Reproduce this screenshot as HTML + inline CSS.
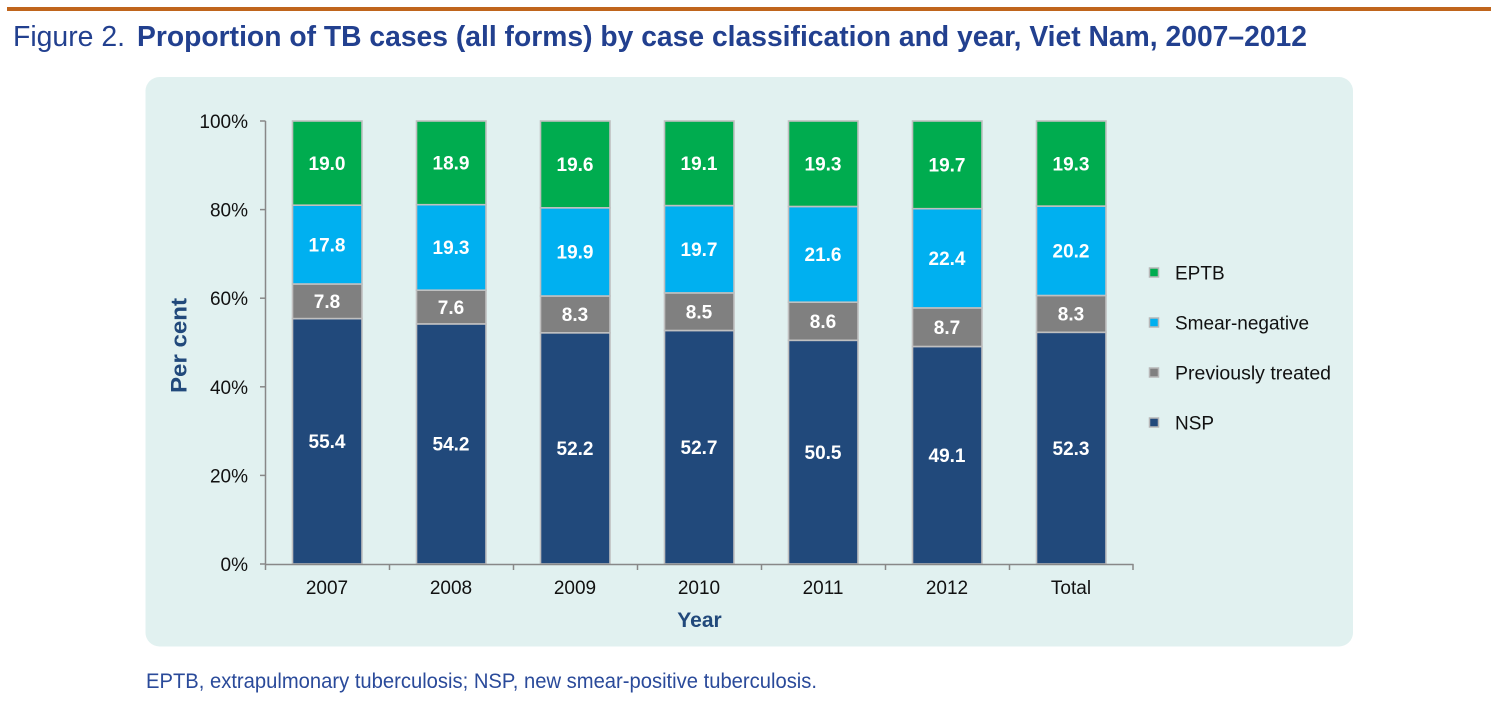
<!DOCTYPE html>
<html>
<head>
<meta charset="utf-8">
<style>
html,body{margin:0;padding:0;background:#ffffff;}
svg{display:block;}
</style>
</head>
<body>
<svg width="1500" height="702" viewBox="0 0 1500 702" xmlns="http://www.w3.org/2000/svg" font-family="'Liberation Sans', Arial, sans-serif">
  <!-- top rule -->
  <rect x="7" y="7" width="1484" height="4" fill="#c0651c"/>
  <!-- title -->
  <text x="13" y="46" font-size="29" fill="#22408f" textLength="112" lengthAdjust="spacingAndGlyphs">Figure 2.</text>
  <text x="137" y="46" font-size="29" font-weight="bold" fill="#22408f" textLength="1170" lengthAdjust="spacingAndGlyphs">Proportion of TB cases (all forms) by case classification and year, Viet Nam, 2007–2012</text>

  <!-- panel -->
  <rect x="145.5" y="77" width="1207.5" height="569.5" rx="14" ry="14" fill="#e1f1f0"/>

  <!-- y axis -->
  <g stroke="#888888" stroke-width="1.5" fill="none">
    <line x1="265.5" y1="121" x2="265.5" y2="564"/>
    <line x1="260" y1="121" x2="265.5" y2="121"/>
    <line x1="260" y1="209.6" x2="265.5" y2="209.6"/>
    <line x1="260" y1="298.2" x2="265.5" y2="298.2"/>
    <line x1="260" y1="386.8" x2="265.5" y2="386.8"/>
    <line x1="260" y1="475.4" x2="265.5" y2="475.4"/>
    <line x1="260" y1="564" x2="265.5" y2="564"/>
  </g>
  <g font-size="19" fill="#111111" text-anchor="end">
    <text x="248" y="128">100%</text>
    <text x="248" y="216.6">80%</text>
    <text x="248" y="305.2">60%</text>
    <text x="248" y="393.8">40%</text>
    <text x="248" y="482.4">20%</text>
    <text x="248" y="571">0%</text>
  </g>

  <!-- bars -->
  <g stroke="#c0c0c0" stroke-width="1.6">
    <!-- 2007 -->
    <rect x="292.5" y="318.6" width="69.5" height="245.4" fill="#21497b"/>
    <rect x="292.5" y="284.0" width="69.5" height="34.6" fill="#808080"/>
    <rect x="292.5" y="205.2" width="69.5" height="78.8" fill="#00b0f0"/>
    <rect x="292.5" y="121" width="69.5" height="84.2" fill="#00ac4f"/>
    <!-- 2008 -->
    <rect x="416.5" y="323.9" width="69.5" height="240.1" fill="#21497b"/>
    <rect x="416.5" y="290.2" width="69.5" height="33.7" fill="#808080"/>
    <rect x="416.5" y="204.7" width="69.5" height="85.5" fill="#00b0f0"/>
    <rect x="416.5" y="121" width="69.5" height="83.7" fill="#00ac4f"/>
    <!-- 2009 -->
    <rect x="540.5" y="332.8" width="69.5" height="231.2" fill="#21497b"/>
    <rect x="540.5" y="296.0" width="69.5" height="36.8" fill="#808080"/>
    <rect x="540.5" y="207.8" width="69.5" height="88.2" fill="#00b0f0"/>
    <rect x="540.5" y="121" width="69.5" height="86.8" fill="#00ac4f"/>
    <!-- 2010 -->
    <rect x="664.5" y="330.5" width="69.5" height="233.5" fill="#21497b"/>
    <rect x="664.5" y="292.9" width="69.5" height="37.6" fill="#808080"/>
    <rect x="664.5" y="205.6" width="69.5" height="87.3" fill="#00b0f0"/>
    <rect x="664.5" y="121" width="69.5" height="84.6" fill="#00ac4f"/>
    <!-- 2011 -->
    <rect x="788.5" y="340.3" width="69.5" height="223.7" fill="#21497b"/>
    <rect x="788.5" y="302.2" width="69.5" height="38.1" fill="#808080"/>
    <rect x="788.5" y="206.5" width="69.5" height="95.7" fill="#00b0f0"/>
    <rect x="788.5" y="121" width="69.5" height="85.5" fill="#00ac4f"/>
    <!-- 2012 -->
    <rect x="912.5" y="346.5" width="69.5" height="217.5" fill="#21497b"/>
    <rect x="912.5" y="307.9" width="69.5" height="38.6" fill="#808080"/>
    <rect x="912.5" y="208.7" width="69.5" height="99.2" fill="#00b0f0"/>
    <rect x="912.5" y="121" width="69.5" height="87.7" fill="#00ac4f"/>
    <!-- Total -->
    <rect x="1036.5" y="332.3" width="69.5" height="231.7" fill="#21497b"/>
    <rect x="1036.5" y="295.5" width="69.5" height="36.8" fill="#808080"/>
    <rect x="1036.5" y="206.1" width="69.5" height="89.4" fill="#00b0f0"/>
    <rect x="1036.5" y="121" width="69.5" height="85.1" fill="#00ac4f"/>
  </g>

  <!-- x axis -->
  <g stroke="#888888" stroke-width="1.5" fill="none">
    <line x1="265" y1="564.5" x2="1133.5" y2="564.5"/>
    <line x1="265.5" y1="564" x2="265.5" y2="570"/>
    <line x1="389.5" y1="564" x2="389.5" y2="570"/>
    <line x1="513.5" y1="564" x2="513.5" y2="570"/>
    <line x1="637.5" y1="564" x2="637.5" y2="570"/>
    <line x1="761.5" y1="564" x2="761.5" y2="570"/>
    <line x1="885.5" y1="564" x2="885.5" y2="570"/>
    <line x1="1009.5" y1="564" x2="1009.5" y2="570"/>
    <line x1="1133" y1="564" x2="1133" y2="570"/>
  </g>
  <g font-size="19" fill="#111111" text-anchor="middle">
    <text x="327" y="594">2007</text>
    <text x="451" y="594">2008</text>
    <text x="575" y="594">2009</text>
    <text x="699" y="594">2010</text>
    <text x="823" y="594">2011</text>
    <text x="947" y="594">2012</text>
    <text x="1071" y="594">Total</text>
  </g>

  <!-- data labels -->
  <g font-size="19" font-weight="bold" fill="#ffffff" text-anchor="middle">
    <text x="327" y="448">55.4</text>
    <text x="327" y="308">7.8</text>
    <text x="327" y="251.3">17.8</text>
    <text x="327" y="169.8">19.0</text>

    <text x="451" y="450.6">54.2</text>
    <text x="451" y="313.8">7.6</text>
    <text x="451" y="254.2">19.3</text>
    <text x="451" y="169.6">18.9</text>

    <text x="575" y="455.1">52.2</text>
    <text x="575" y="321.1">8.3</text>
    <text x="575" y="258.6">19.9</text>
    <text x="575" y="171.1">19.6</text>

    <text x="699" y="454">52.7</text>
    <text x="699" y="318.4">8.5</text>
    <text x="699" y="256">19.7</text>
    <text x="699" y="170">19.1</text>

    <text x="823" y="458.9">50.5</text>
    <text x="823" y="328">8.6</text>
    <text x="823" y="261.1">21.6</text>
    <text x="823" y="170.5">19.3</text>

    <text x="947" y="462">49.1</text>
    <text x="947" y="333.9">8.7</text>
    <text x="947" y="265">22.4</text>
    <text x="947" y="171.6">19.7</text>

    <text x="1071" y="454.9">52.3</text>
    <text x="1071" y="320.6">8.3</text>
    <text x="1071" y="257.5">20.2</text>
    <text x="1071" y="170.3">19.3</text>
  </g>

  <!-- axis titles -->
  <text x="699.5" y="627" font-size="21" font-weight="bold" fill="#21497b" text-anchor="middle">Year</text>
  <text transform="translate(186.5,345.5) rotate(-90)" x="0" y="0" font-size="22" font-weight="bold" fill="#21497b" text-anchor="middle" textLength="95" lengthAdjust="spacingAndGlyphs">Per cent</text>

  <!-- legend -->
  <g stroke="#b8b8b8" stroke-width="1.5">
    <rect x="1149.5" y="268" width="9" height="9" fill="#00ac4f"/>
    <rect x="1149.5" y="318" width="9" height="9" fill="#00b0f0"/>
    <rect x="1149.5" y="368" width="9" height="9" fill="#808080"/>
    <rect x="1149.5" y="418" width="9" height="9" fill="#21497b"/>
  </g>
  <g font-size="19" fill="#111111">
    <text x="1175" y="279.5">EPTB</text>
    <text x="1175" y="329.5">Smear-negative</text>
    <text x="1175" y="379.5" textLength="156" lengthAdjust="spacingAndGlyphs">Previously treated</text>
    <text x="1175" y="429.5">NSP</text>
  </g>

  <!-- footnote -->
  <text x="146" y="688" font-size="21" fill="#2a4a9a" textLength="671" lengthAdjust="spacingAndGlyphs">EPTB, extrapulmonary tuberculosis; NSP, new smear-positive tuberculosis.</text>
</svg>
</body>
</html>
